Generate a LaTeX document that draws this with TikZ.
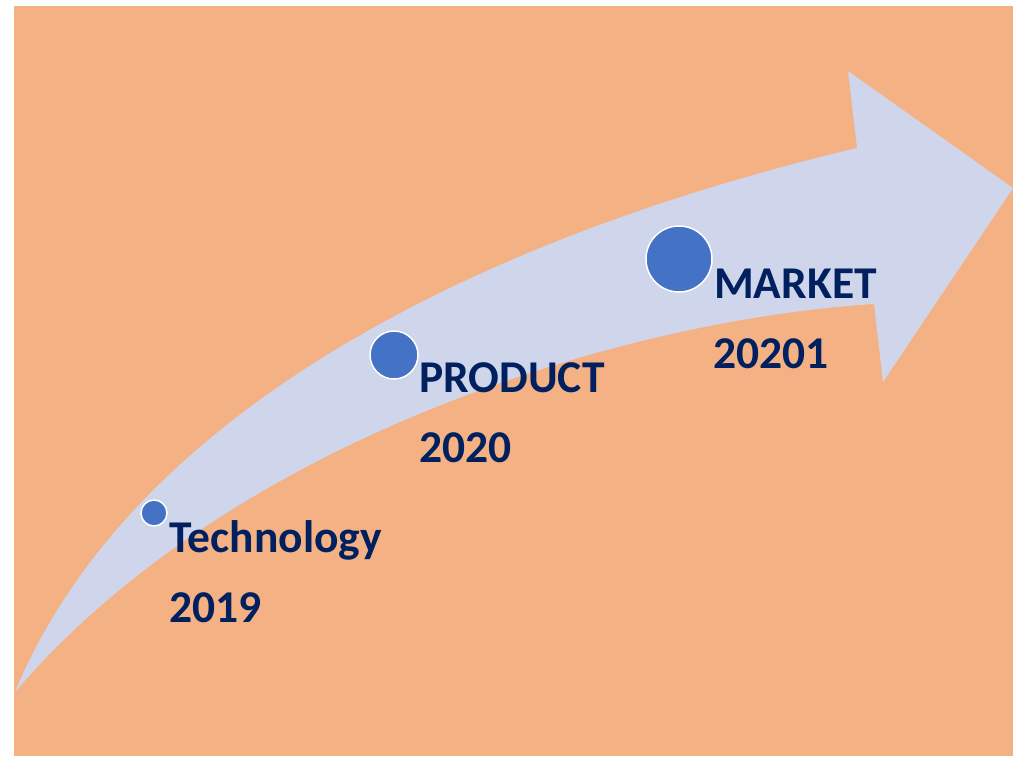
\documentclass[tikz,border=0pt]{standalone}
\usepackage{fontspec}
\setmainfont{Carlito}
\definecolor{bgorange}{HTML}{F4B183}
\definecolor{lav}{HTML}{CFD5EA}
\definecolor{dotblue}{HTML}{4472C4}
\definecolor{navy}{HTML}{002060}
\begin{document}
\begin{tikzpicture}[x=1pt,y=-1pt,
  dot/.style={circle, fill=dotblue, draw=white, line width=1.5pt, inner sep=0pt},
  lbl/.style={anchor=base west, inner sep=0pt, text=navy, font=\fontsize{45.5}{45.5}\selectfont\bfseries}]
\useasboundingbox (0,0) rectangle (1019,756);
\fill[white] (0,0) rectangle (1019,756);
\fill[bgorange] (14,6) rectangle (1013,756);
\fill[lav] (15,692) .. controls (130,415) and (470,240) .. (857,148)
  -- (848,71) -- (1013,188) -- (883,382) -- (874,304)
  .. controls (620,320) and (230,440) .. (15,692) -- cycle;
\node[dot, minimum size=26pt] (d1) at (154,513) {};
\node[dot, minimum size=48pt] (d2) at (394,355) {};
\node[dot, minimum size=66pt] (d3) at (679,259) {};
\node[lbl] (t1) at (169,552) {Technology};
\node[lbl] (y1) at (169,622) {2019};
\node[lbl] (t2) at (419,392) {PRODUCT};
\node[lbl] (y2) at (419,462) {2020};
\node[lbl] (t3) at (714,298) {MARKET};
\node[lbl] (y3) at (713,368) {20201};
\end{tikzpicture}
\end{document}
